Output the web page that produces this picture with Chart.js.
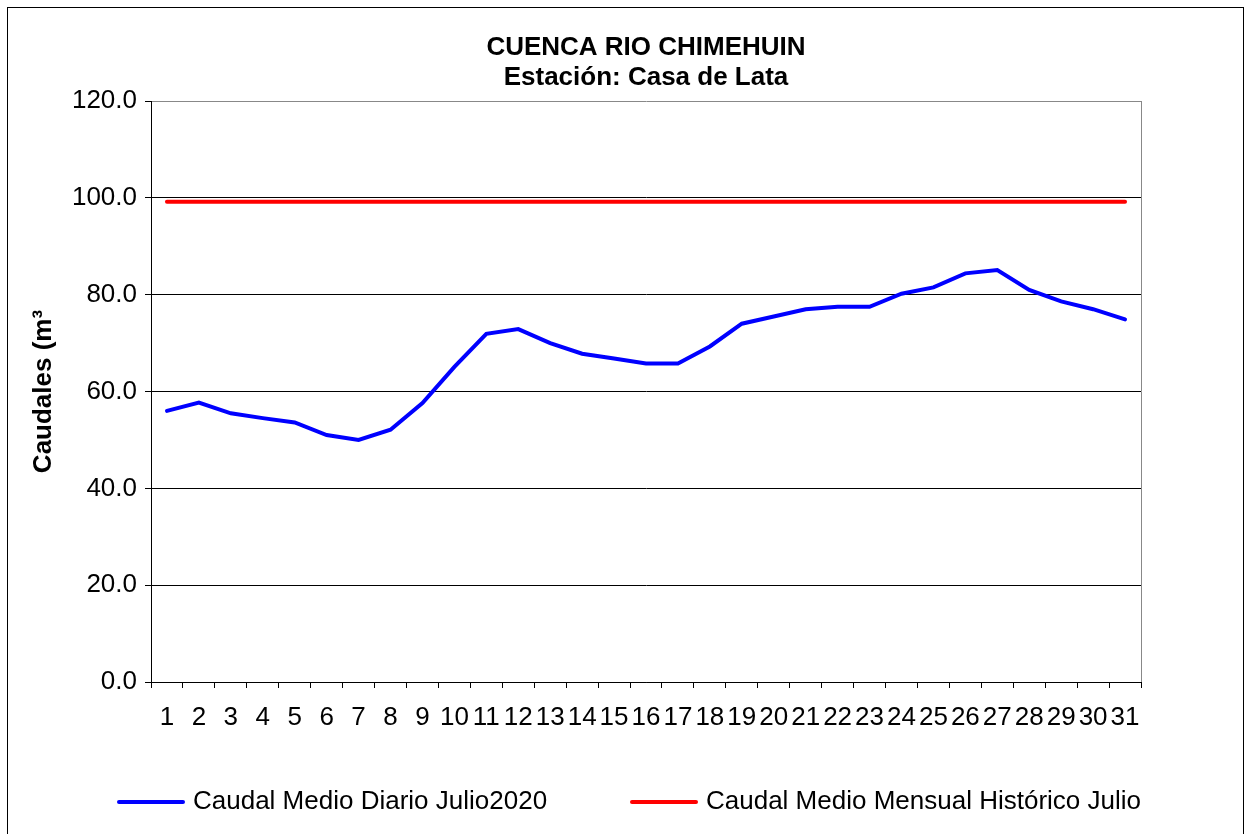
<!DOCTYPE html>
<html>
<head>
<meta charset="utf-8">
<script src="https://cdn.jsdelivr.net/npm/chart.js@4.4.1/dist/chart.umd.min.js"></script>
<style>
  html, body { margin: 0; padding: 0; background: #fff; }
  #wrap { position: relative; width: 1246px; height: 834px; }
  #frame { position: absolute; left: 7px; top: 7px; width: 1235px; height: 840px; border: 1px solid #000; pointer-events: none; }
</style>
</head>
<body>
<div id="wrap">
  <canvas id="chart" width="1246" height="834"></canvas>
  <div id="frame"></div>
</div>
<script>
// --- DATA ---
const days = ['1','2','3','4','5','6','7','8','9','10','11','12','13','14','15','16',
              '17','18','19','20','21','22','23','24','25','26','27','28','29','30','31'];

const caudalDiario = [56.0, 57.7, 55.5, 54.5, 53.6, 51.0, 50.0, 52.1, 57.6, 65.1, 71.9,
                      72.9, 70.0, 67.8, 66.8, 65.8, 65.8, 69.3, 74.0, 75.5, 77.0, 77.5,
                      77.5, 80.2, 81.5, 84.4, 85.1, 81.0, 78.6, 77.0, 74.9];

const caudalHistorico = [99.2, 99.2, 99.2, 99.2, 99.2, 99.2, 99.2, 99.2, 99.2, 99.2, 99.2,
                         99.2, 99.2, 99.2, 99.2, 99.2, 99.2, 99.2, 99.2, 99.2, 99.2, 99.2,
                         99.2, 99.2, 99.2, 99.2, 99.2, 99.2, 99.2, 99.2, 99.2];

const yTicks = [0, 20, 40, 60, 80, 100, 120];

const FONT = "'Liberation Sans', Arial, sans-serif";
Chart.defaults.font.family = FONT;
Chart.defaults.color = '#000';

// legend drawn by hand so the two items sit where the original puts them
const LEGEND_X = [117, 630];
const LEGEND_Y = 802;

const bottomLegend = {
    id: 'bottomLegend',
    afterDraw(chart) {
        const ctx = chart.ctx;
        ctx.save();
        ctx.font = '26px ' + FONT;
        ctx.textBaseline = 'middle';
        ctx.textAlign = 'left';
        chart.data.datasets.forEach((ds, i) => {
            const x = LEGEND_X[i];
            ctx.strokeStyle = ds.borderColor;
            ctx.lineWidth = 4;
            ctx.lineCap = 'round';
            ctx.beginPath();
            ctx.moveTo(x + 2, LEGEND_Y);
            ctx.lineTo(x + 66, LEGEND_Y);
            ctx.stroke();
            ctx.fillStyle = '#000';
            ctx.fillText(ds.label, x + 76, LEGEND_Y);
        });
        ctx.restore();
    }
};

const ctx = document.getElementById('chart').getContext('2d');
new Chart(ctx, {
    type: 'line',
    data: {
        labels: days,
        datasets: [
            {
                label: 'Caudal Medio Diario Julio2020',
                data: caudalDiario,
                borderColor: '#0000ff',
                borderWidth: 4,
                borderCapStyle: 'round',
                pointRadius: 0,
                tension: 0
            },
            {
                label: 'Caudal Medio Mensual Histórico Julio',
                data: caudalHistorico,
                borderColor: '#ff0000',
                borderWidth: 4,
                borderCapStyle: 'round',
                pointRadius: 0,
                tension: 0
            }
        ]
    },
    options: {
        responsive: false,
        animation: false,
        layout: { padding: { top: 0, left: 0, right: 105, bottom: 92 } },
        plugins: {
            legend: { display: false },
            tooltip: { enabled: false },
            title: {
                display: true,
                fullSize: false,
                text: ['CUENCA RIO CHIMEHUIN', 'Estación: Casa de Lata'],
                font: { size: 26, weight: 'bold', lineHeight: 1.154 },
                color: '#000',
                padding: { top: 32.5, bottom: 8.5 }
            }
        },
        scales: {
            x: {
                offset: true,
                border: { color: '#000', width: 1 },
                grid: {
                    offset: true,
                    // only the closing line at the right edge is visible (grey plot frame)
                    color: c => c.type === 'scale' ? '#888' : 'rgba(0,0,0,0)',
                    tickColor: '#000',
                    tickLength: 6
                },
                ticks: {
                    autoSkip: false,
                    maxRotation: 0,
                    padding: 14,
                    font: { size: 26 },
                    color: '#000'
                },
                afterFit: scale => { scale.height = 60; }
            },
            y: {
                min: 0,
                max: 120,
                border: { color: '#000', width: 1 },
                grid: {
                    color: c => c.tick && c.tick.value === 120 ? '#888' : '#000',
                    tickColor: '#000',
                    tickLength: 6
                },
                afterBuildTicks: scale => { scale.ticks = yTicks.map(v => ({ value: v })); },
                ticks: {
                    padding: 8,
                    font: { size: 26 },
                    color: '#000',
                    callback: v => v.toFixed(1)
                },
                title: {
                    display: true,
                    text: 'Caudales (m³',
                    font: { size: 26, weight: 'bold' },
                    color: '#000',
                    padding: { top: 28 }
                },
                afterFit: scale => { scale.width = 151; }
            }
        }
    },
    plugins: [bottomLegend]
});
</script>
</body>
</html>
